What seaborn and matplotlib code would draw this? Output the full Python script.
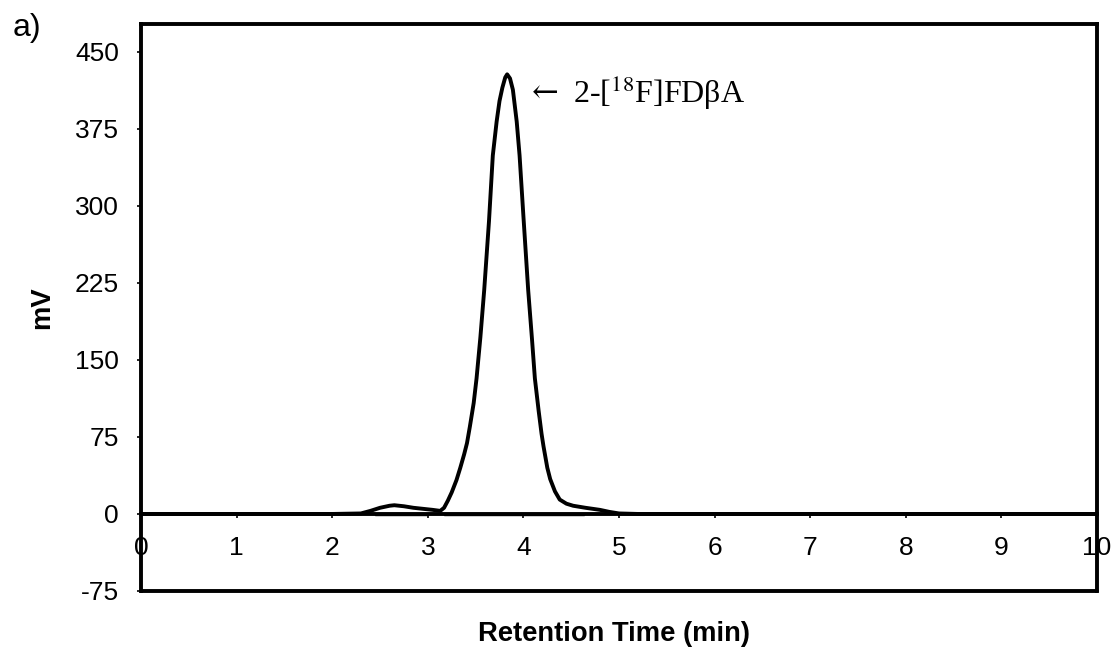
import numpy as np
import pandas as pd
import matplotlib
matplotlib.use("Agg")
import matplotlib.pyplot as plt
import seaborn as sns

# ---- data ----
time_min = [0, 2.0, 2.3, 2.4, 2.5, 2.6, 2.65, 2.75, 2.85, 2.95, 3.05, 3.13,
            3.17, 3.21, 3.25, 3.3, 3.34, 3.38, 3.41, 3.44, 3.48, 3.51, 3.55,
            3.59, 3.64, 3.68, 3.72, 3.75, 3.78, 3.81, 3.83, 3.86, 3.89, 3.93,
            3.96, 4.0, 4.05, 4.09, 4.12, 4.16, 4.19, 4.21, 4.25, 4.28, 4.33,
            4.38, 4.45, 4.52, 4.65, 4.8, 4.9, 5.0, 5.2, 10]
signal_mv = [0, 0, 0.5, 3, 6, 8, 8.5, 7.5, 6, 5, 4, 3,
             6, 13, 21, 33, 45, 58, 69, 85, 108, 132, 172,
             218, 285, 349, 382, 402, 415, 425, 428, 424, 413, 382,
             349, 290, 218, 170, 132, 100, 78, 66, 45, 34, 22,
             14, 10, 8, 6, 4, 2, 0.5, 0, 0]
baseline_start = [2.45, 3.17]
baseline_end = [3.0, 4.63]
x_ticks = [0, 1, 2, 3, 4, 5, 6, 7, 8, 9, 10]
y_ticks = [-75, 0, 75, 150, 225, 300, 375, 450]
peak_arrow = "\u2190"
peak_label = "2-[$^{18}$F]FD\u03b2A"

df = pd.DataFrame({"time": time_min, "mv": signal_mv})

sns.set_style("white")
plt.rcParams["font.family"] = ["Liberation Sans", "DejaVu Sans"]
plt.rcParams["mathtext.fontset"] = "stix"
plt.rcParams["axes.unicode_minus"] = False
plt.rcParams["text.color"] = "black"
plt.rcParams["axes.labelcolor"] = "black"

fig = plt.figure(figsize=(11.18, 6.49), dpi=100)
ax = fig.add_axes([141 / 1118, 1 - 591 / 649, 956 / 1118, 567 / 649])

sns.lineplot(data=df, x="time", y="mv", ax=ax, color="black", lw=2.8)
for s, e in zip(baseline_start, baseline_end):
    ax.plot([s, e], [-1, -1], color="black", lw=1.0)

ax.set_xlim(0, 10)
ax.set_ylim(-75, 477)
ax.set_xticks(x_ticks)
ax.set_yticks(y_ticks)

for sp in ax.spines.values():
    sp.set_linewidth(2.8)
    sp.set_color("black")
ax.spines["bottom"].set_position(("data", 0))
ax.axhline(-75, color="black", lw=2.8, clip_on=False)

ax.tick_params(axis="x", direction="out", length=3, width=1.2, pad=13,
               labelsize=19, colors="black", bottom=True)
ax.tick_params(axis="y", direction="out", length=3, width=1.2, pad=13,
               labelsize=19, colors="black", left=True)

ax.set_xlabel("Retention Time (min)", fontsize=19.7, fontweight="bold",
              va="center", color="black")
ax.xaxis.set_label_coords(0.495, -0.076)
ax.set_ylabel("mV", fontsize=19.7, fontweight="bold", va="center", color="black")
ax.yaxis.set_label_coords(-0.1036, 0.5)

ax.text(4.09, 400, peak_arrow, ha="left", va="baseline", fontsize=23,
        family=["DejaVu Serif"])
ax.text(4.52, 400, peak_label, ha="left", va="baseline", fontsize=23,
        family=["Liberation Serif", "DejaVu Serif"])

fig.text(0.011, 1 - 28 / 649, "a)", ha="left", va="center", fontsize=23)

fig.savefig("out.png", dpi=100)
